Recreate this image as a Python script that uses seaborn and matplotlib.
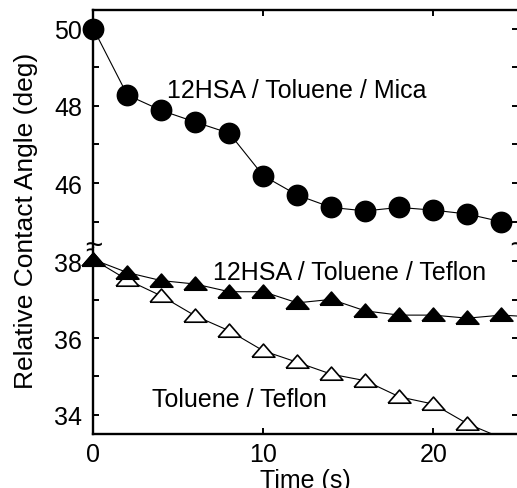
import numpy as np
import pandas as pd
import matplotlib
matplotlib.use("Agg")
import matplotlib.pyplot as plt
from matplotlib.ticker import MultipleLocator
from matplotlib.markers import MarkerStyle
import seaborn as sns

# values
time = [0, 2, 4, 6, 8, 10, 12, 14, 16, 18, 20, 22, 24, 26]
mica = [50.0, 48.28, 47.88, 47.58, 47.29, 46.19, 45.69, 45.37, 45.28, 45.37, 45.3, 45.2, 45.0, np.nan]
hsa_teflon = [38.05, 37.71, 37.5, 37.41, 37.21, 37.21, 36.92, 37.01, 36.71, 36.6, 36.6, 36.52, 36.6, 36.55]
toluene_teflon = [38.05, 37.52, 37.1, 36.58, 36.19, 35.67, 35.37, 35.06, 34.89, 34.47, 34.28, 33.77, 33.4, np.nan]

label_mica = "12HSA / Toluene / Mica"
label_hsa = "12HSA / Toluene / Teflon"
label_tol = "Toluene / Teflon"

XLIM = (0, 25)
YLIM_TOP = (44.32, 50.48)
YLIM_BOT = (33.5, 38.35)

sns.set_style("ticks")
plt.rcParams['font.family'] = ['Liberation Sans', 'DejaVu Sans']
plt.rcParams['axes.linewidth'] = 1.7
for key in ('text.color', 'axes.labelcolor', 'xtick.color', 'ytick.color', 'axes.edgecolor'):
    plt.rcParams[key] = 'black'

df = pd.DataFrame({'time': time, 'mica': mica, 'hsa': hsa_teflon, 'tol': toluene_teflon})

fig = plt.figure(figsize=(5.17, 4.89), dpi=100)
left, width = 0.1805, 0.822
top, mid, bottom = 0.9775, 0.4908, 0.1104
ax_top = fig.add_axes([left, mid, width, top - mid])
ax_bot = fig.add_axes([left, bottom, width, mid - bottom])

# flat triangle, closed path so the open version gets all three edges
tri = MarkerStyle([(-1, -0.5), (1, -0.5), (0, 0.65), (-1, -0.5)])


def draw(ax, col, marker, size, face, ylim):
    d = df[['time', col]].dropna()
    sns.lineplot(data=d, x='time', y=col, ax=ax, color='black', linewidth=0.8,
                 zorder=2, estimator=None)
    inside = d[(d[col] >= ylim[0]) & (d[col] <= ylim[1]) & (d['time'] <= XLIM[1])]
    sns.scatterplot(data=inside, x='time', y=col, ax=ax, marker=marker, s=size,
                    color=face, edgecolor='black', linewidth=1.2, clip_on=False, zorder=3)


draw(ax_top, 'mica', 'o', 210, 'black', YLIM_TOP)
draw(ax_bot, 'tol', tri, 270, 'white', YLIM_BOT)
draw(ax_bot, 'hsa', tri, 270, 'black', YLIM_BOT)

for ax, ylim in ((ax_top, YLIM_TOP), (ax_bot, YLIM_BOT)):
    ax.set_xlim(*XLIM)
    ax.set_ylim(*ylim)
    ax.yaxis.set_major_locator(MultipleLocator(2))
    ax.yaxis.set_minor_locator(MultipleLocator(1))
    ax.xaxis.set_major_locator(MultipleLocator(10))
    ax.set_xlabel("")
    ax.set_ylabel("")
    ax.tick_params(which='both', direction='in', length=4, width=1.4,
                   labelsize=18, left=True, right=True)
    ax.tick_params(axis='y', pad=8)

ax_top.spines['bottom'].set_visible(False)
ax_top.tick_params(axis='x', top=True, bottom=False, labelbottom=False)
ax_bot.spines['top'].set_visible(False)
ax_bot.tick_params(axis='x', top=False, bottom=True, pad=6)
ax_bot.set_xlabel("Time (s)", fontsize=18, labelpad=1)

fig.text(0.05, 0.548, "Relative Contact Angle (deg)", rotation=90,
         ha='center', va='center', fontsize=19)

ax_top.text(4.35, 48.22, label_mica, fontsize=18, va='baseline')
ax_bot.text(7.06, 37.54, label_hsa, fontsize=18, va='baseline')
ax_bot.text(3.43, 34.23, label_tol, fontsize=18, va='baseline')

# axis break marks
for xpos in (0, 1):
    ax_top.text(xpos, 0, "\u2248", transform=ax_top.transAxes, ha='center',
                va='center', fontsize=22, clip_on=False, zorder=5)

fig.savefig("out.png", dpi=100)
